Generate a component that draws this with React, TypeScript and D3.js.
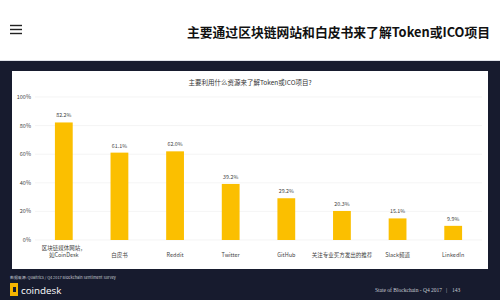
import React from "react";
import * as d3 from "d3";

const categories = ["区块链媒体网站，\n如CoinDesk", "白皮书", "Reddit", "Twitter", "GitHub", "关注专业买方发出的推荐", "Slack频道", "LinkedIn"];
const values = [82.2, 61.1, 62.0, 39.2, 29.2, 20.3, 15.1, 9.9];
const yTicks = [0, 20, 40, 60, 80, 100];

const W = 500, H = 300;
const CJK = "'Noto Sans CJK SC', 'Noto Sans', sans-serif";

export default function App() {
  const x = d3.scaleBand<string>().domain(categories).range([36, 481]).paddingInner(0.68).paddingOuter(0.34);
  const y = d3.scaleLinear().domain([0, 100]).range([240, 97]);

  return (
    <svg width={W} height={H} style={{ position: "absolute", left: 0, top: 0 }} fontFamily={CJK}>
      <rect x={0} y={0} width={W} height={H} fill="#171b2e" />
      <rect x={0} y={0} width={W} height={61} fill="#ffffff" />
      <line x1={0} x2={W} y1={60.5} y2={60.5} stroke="#dfe2e8" />
      {[25.5, 29.5, 33.5].map((yy) => (
        <line key={yy} x1={10} x2={22} y1={yy} y2={yy} stroke="#222" strokeWidth={1.4} />
      ))}
      <text x={490} y={37} textAnchor="end" fontSize={12.8} fontWeight="bold" fill="#111">
        主要通过区块链网站和白皮书来了解Token或ICO项目
      </text>

      <rect x={12} y={71} width={476} height={198} fill="#ffffff" />
      <text x={250} y={85} textAnchor="middle" fontSize={6.5} fill="#333">
        主要利用什么资源来了解Token或ICO项目?
      </text>

      {yTicks.map((t) => (
        <g key={t}>
          <line x1={35} x2={482} y1={y(t)} y2={y(t)} stroke="#ececec" strokeWidth={0.6} />
          <text x={31} y={y(t) + 2} textAnchor="end" fontSize={5.5} fill="#444">
            {t}%
          </text>
        </g>
      ))}

      {categories.map((c, i) => {
        const bx = x(c)!;
        const bw = x.bandwidth();
        const cx = bx + bw / 2;
        const lines = c.split("\n");
        return (
          <g key={c}>
            <rect x={bx} y={y(values[i])} width={bw} height={y(0) - y(values[i])} fill="#fbbf00" />
            <text x={cx} y={y(values[i]) - 5} textAnchor="middle" fontSize={5.3} fill="#444">
              {values[i].toFixed(1)}%
            </text>
            {lines.map((ln, k) => (
              <text
                key={k}
                x={cx}
                y={(lines.length > 1 ? 250 : 257) + k * 6.5}
                textAnchor="middle"
                fontSize={5.5}
                fill="#444"
              >
                {ln}
              </text>
            ))}
          </g>
        );
      })}

      <text x={10} y={279} fontSize={3.9} fill="#c8cbd4">
        数据来源: Qualtrics / Q4 2017 Blockchain Sentiment Survey
      </text>
      <rect x={10} y={283} width={8} height={13} fill="#f5b400" />
      <rect x={13} y={287} width={3} height={5} fill="#171b2e" />
      <text x={21} y={294} fontSize={9.8} fill="#ffffff" fontFamily="'Open Sans', sans-serif">
        coindesk
      </text>
      <text x={375} y={292} fontSize={5.5} fill="#c8cbd4" fontFamily="'Liberation Serif', serif">
        State of Blockchain - Q4 2017
      </text>
      <text x={446} y={292} fontSize={5.5} fill="#c8cbd4" fontFamily="'Liberation Serif', serif">
        |
      </text>
      <text x={452} y={292} fontSize={5.5} fill="#c8cbd4" fontFamily="'Liberation Serif', serif">
        143
      </text>
    </svg>
  );
}
